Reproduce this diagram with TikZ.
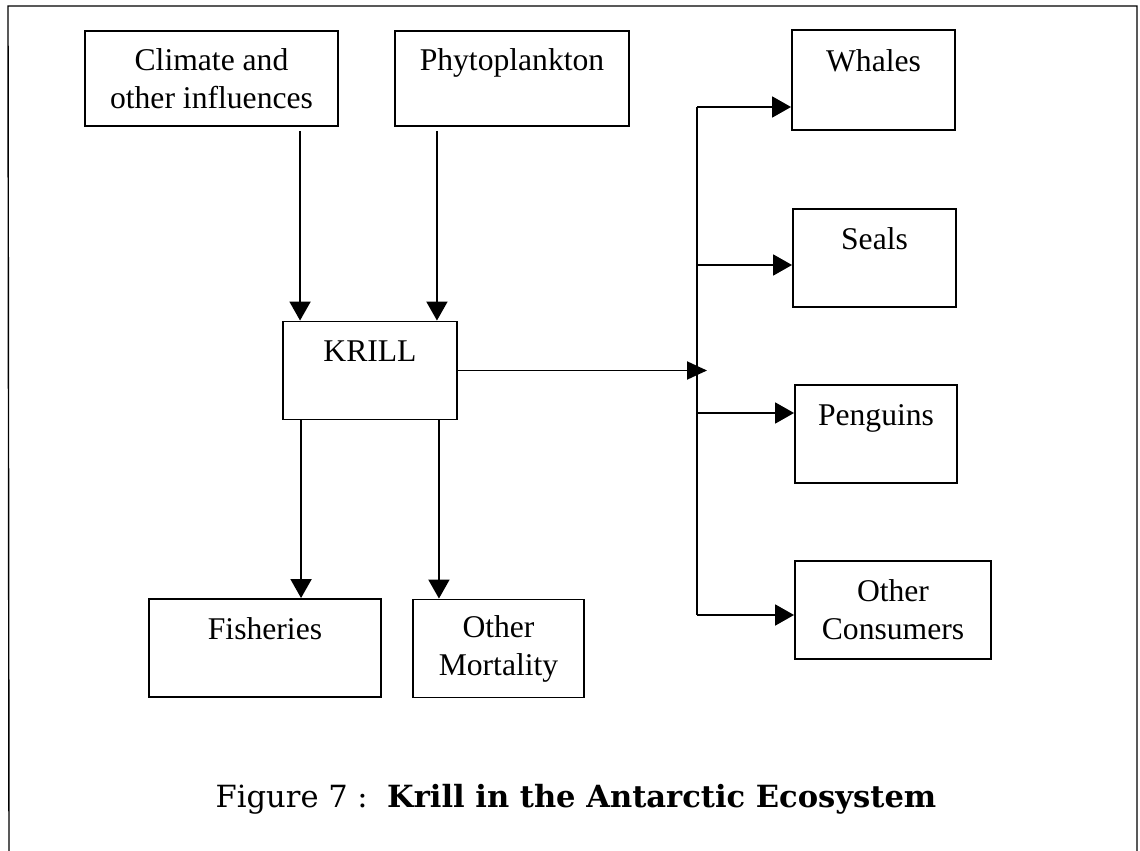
\documentclass[tikz,border=0pt]{standalone}
\usepackage{fontspec}
\setmainfont{Liberation Serif}
\newfontfamily\capfont{DejaVu Serif}
\usetikzlibrary{arrows.meta}

\tikzset{
  box/.style={draw, line width=1.1pt, align=center, minimum height=1.96cm,
    inner sep=0pt, font=\fontsize{18}{21.6}\selectfont},
  arr/.style={-{Triangle[length=0.38cm,width=0.42cm]}, line width=1.1pt},
}

\begin{document}
\begin{tikzpicture}[x=0.02cm, y=-0.02cm]
        \useasboundingbox (0,0) rectangle (1140,851);
        \draw[line width=0.8pt] (9,851) -- (8,6) -- (1137,6) -- (1137,851);

        \node[box, minimum width=5.06cm, minimum height=1.9cm] (climate) at (211.5,78.5) {Climate and\\other influences};
        \node[box, minimum width=4.68cm, minimum height=1.9cm] (phyto) at (512,78.5) {Phytoplankton\\\mbox{}};
        \node[box, minimum width=3.48cm] (krill) at (370,370.5) {KRILL\\\mbox{}};
        \node[box, minimum width=4.64cm] (fish) at (265,648) {Fisheries\\\mbox{}};
        \node[box, minimum width=3.42cm] (mort) at (498.5,648.5) {Other\\Mortality};

        \node[box, minimum width=3.26cm, minimum height=2cm] (whales) at (873.5,80) {Whales\\\mbox{}};
        \node[box, minimum width=3.26cm] (seals) at (874.5,258) {Seals\\\mbox{}};
        \node[box, minimum width=3.24cm] (peng) at (876,434) {Penguins\\\mbox{}};
        \node[box, minimum width=3.92cm] (cons) at (893,610) {Other\\Consumers};

        \coordinate (k1) at ([xshift=0.36cm]krill.north west);
        \coordinate (k2) at ([xshift=-0.42cm]krill.north east);
        \coordinate (k3) at ([xshift=0.38cm]krill.south west);
        \coordinate (k4) at ([xshift=-0.38cm]krill.south east);

        \draw[arr] (climate.south -| k1) ++(0,4) -- (k1);
        \draw[arr] (phyto.south -| k2) ++(0,4) -- (k2);
        \draw[arr] (k3) -- (k3 |- fish.north);
        \draw[arr] (k4) -- (k4 |- mort.north);

        \coordinate (hub) at (707,370.5);
        \draw[arr, -{Triangle[length=0.4cm,width=0.36cm]}] (krill.east) -- (hub);

        \foreach \n/\y in {whales/107, seals/265, peng/413, cons/615} {
            \coordinate (b-\n) at (697,\y);
            \draw[arr] (b-\n) -- (b-\n -| \n.west);
        }
        \draw[line width=1.1pt] (b-whales) -- (b-cons);

        \node[anchor=base, font=\capfont\fontsize{17.4}{20}\selectfont] (cap) at (576,807)
            {Figure 7 :\ \ \textbf{Krill in the Antarctic Ecosystem}};
\end{tikzpicture}
\end{document}
